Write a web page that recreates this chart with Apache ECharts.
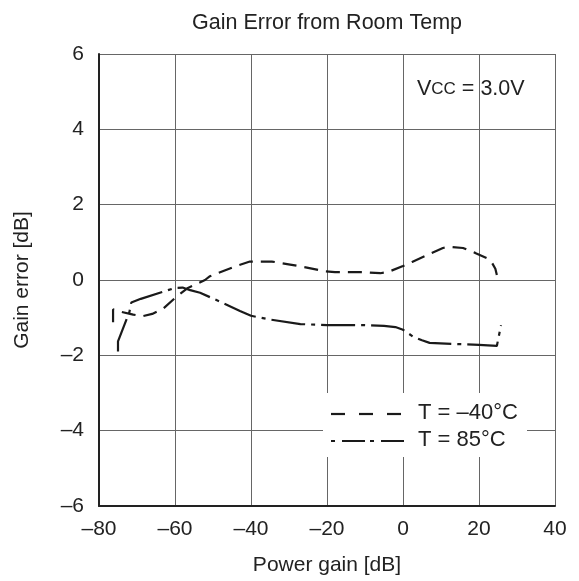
<!DOCTYPE html>
<html>
<head>
<meta charset="utf-8">
<script src="https://cdn.jsdelivr.net/npm/echarts@6/dist/echarts.min.js"></script>
<style>html,body{margin:0;padding:0;background:#fff}#c{width:579px;height:581px}</style>
</head>
<body>
<div id="c"></div>
<script>
const xTicks = [-80, -60, -40, -20, 0, 20, 40];
const yTicks = [-6, -4, -2, 0, 2, 4, 6];
const seriesNames = ['T = \u201340\u00b0C', 'T = 85\u00b0C'];
const tempMinus40 = [
  [-76.3,-1.12],[-76.3,-0.78],[-74,-0.85],[-71,-0.92],[-68.5,-0.96],[-66,-0.9],[-63,-0.75],
  [-59.7,-0.45],[-56.6,-0.21],[-52.1,0.0],[-50.8,0.1],[-44.2,0.36],[-40.3,0.49],[-34.5,0.49],
  [-29.7,0.41],[-25.3,0.33],[-20.5,0.23],[-17.9,0.21],[-10.5,0.21],[-6,0.18],[-4,0.21],
  [0,0.37],[2.4,0.48],[6.3,0.66],[10.5,0.85],[12.4,0.88],[15.8,0.85],[19,0.72],[22.1,0.58],
  [23.4,0.46],[24.3,0.3],[24.7,0.13]
];
const temp85 = [
  [-75,-1.9],[-75,-1.63],[-72,-0.85],[-71.5,-0.6],[-69,-0.5],[-60,-0.21],[-58,-0.2],
  [-56,-0.27],[-53.4,-0.34],[-48,-0.58],[-42.9,-0.82],[-40,-0.95],[-35,-1.05],[-27,-1.17],
  [-20,-1.2],[-10,-1.2],[-5,-1.22],[-2,-1.25],[0,-1.32],[2.6,-1.5],[5,-1.6],[7,-1.67],
  [14,-1.7],[20,-1.72],[24.7,-1.75],[25.8,-1.2]
];
const fmt = v => String(v).replace('-', '\u2013');
const FONT = 'Liberation Sans';
const TXT = '#222';
const chart = echarts.init(document.getElementById('c'));
chart.setOption({
  animation: false,
  backgroundColor: '#fff',
  title: {
    text: 'Gain Error from Room Temp', left: 322, top: 7, textAlign: 'center',
    textStyle: { fontFamily: FONT, fontWeight: 'normal', fontSize: 21.5, color: TXT }
  },
  grid: { left: 99, right: 24, top: 54, bottom: 75 },
  xAxis: {
    type: 'value', min: -80, max: 40, interval: 20,
    name: 'Power gain [dB]', nameLocation: 'middle', nameGap: 49,
    nameTextStyle: { fontFamily: FONT, fontSize: 21, color: TXT },
    axisLine: { show: true, onZero: false, lineStyle: { color: '#222', width: 2 } },
    axisTick: { show: false },
    axisLabel: { formatter: fmt, margin: 13, fontFamily: FONT, fontSize: 21, color: TXT },
    splitLine: { show: true, lineStyle: { color: '#666', width: 1 } }
  },
  yAxis: {
    type: 'value', min: -6, max: 6, interval: 2,
    name: 'Gain error [dB]', nameLocation: 'middle', nameGap: 66, nameRotate: 90,
    nameTextStyle: { fontFamily: FONT, fontSize: 21, color: TXT },
    axisLine: { show: true, onZero: false, lineStyle: { color: '#222', width: 2 } },
    axisTick: { show: false },
    axisLabel: { formatter: fmt, margin: 15, fontFamily: FONT, fontSize: 21, color: TXT },
    splitLine: { show: true, lineStyle: { color: '#666', width: 1 } }
  },
  graphic: [
    {
      type: 'text', left: 417, top: 78, z: 10,
      style: {
        text: '{a|V}{b|CC}{a| = 3.0V}',
        rich: {
          a: { fontFamily: FONT, fontSize: 21.5, fill: TXT },
          b: { fontFamily: FONT, fontSize: 17, fill: TXT }
        }
      }
    },
    { type: 'rect', z: 5, shape: { x: 323, y: 393, width: 204, height: 64 }, style: { fill: '#fff' } },
    { type: 'line', z: 6, shape: { x1: 331, y1: 414, x2: 406, y2: 414 },
      style: { stroke: '#1a1a1a', lineWidth: 2.2, lineDash: [14, 14] } },
    { type: 'line', z: 6, shape: { x1: 331, y1: 441, x2: 406, y2: 441 },
      style: { stroke: '#1a1a1a', lineWidth: 2.2, lineDash: [4, 7, 23, 5] } },
    { type: 'text', z: 6, left: 418, top: 402, style: { text: seriesNames[0], font: '22px "Liberation Sans"', fill: TXT } },
    { type: 'text', z: 6, left: 418, top: 429, style: { text: seriesNames[1], font: '22px "Liberation Sans"', fill: TXT } }
  ],
  series: [
    {
      name: seriesNames[0], type: 'line', data: tempMinus40, showSymbol: false, symbol: 'none',
      lineStyle: { color: '#1a1a1a', width: 2.2, type: [14, 8] }
    },
    {
      name: seriesNames[1], type: 'line', data: temp85, showSymbol: false, symbol: 'none',
      lineStyle: { color: '#1a1a1a', width: 2.2, type: [34, 6, 4, 6] }
    }
  ]
});
</script>
</body>
</html>
